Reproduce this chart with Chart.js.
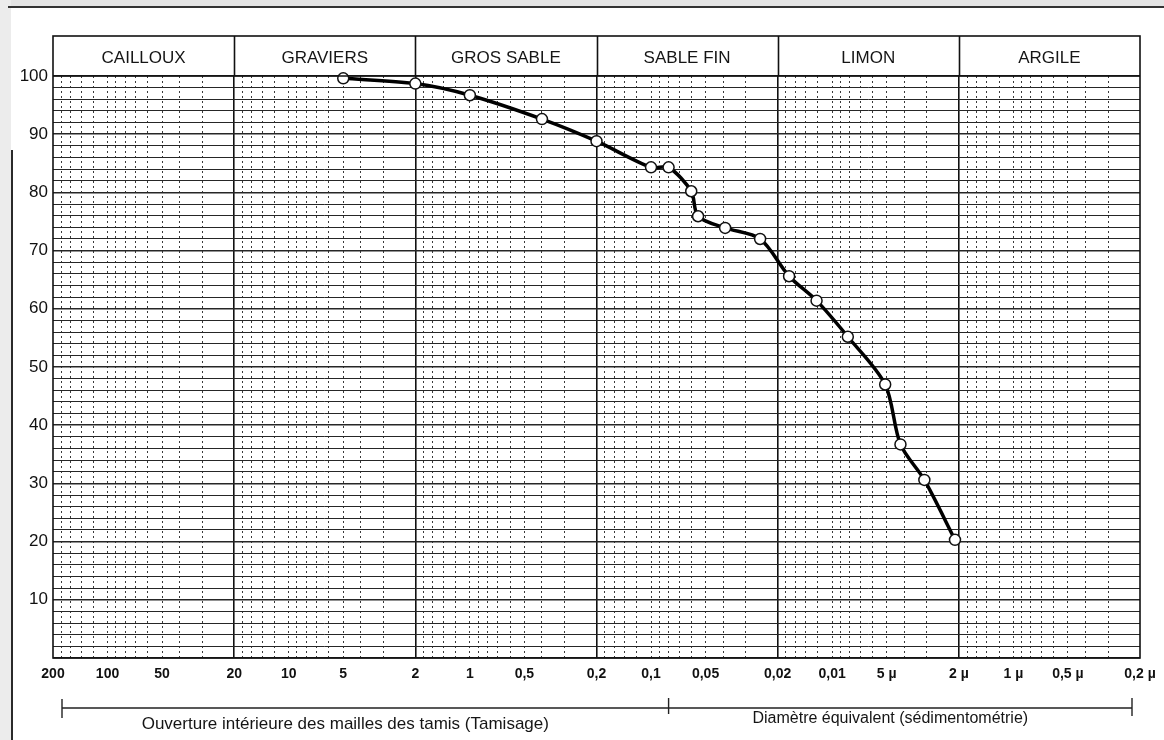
<!DOCTYPE html>
<html lang="fr">
<head>
<meta charset="utf-8">
<title>Courbe granulométrique</title>
<script src="https://cdn.jsdelivr.net/npm/chart.js@4.4.1/dist/chart.umd.min.js"></script>
<style>
  html, body { margin: 0; padding: 0; background: #fff; }
  #wrap { position: relative; width: 1164px; height: 740px; overflow: hidden; }
  #strip { position: absolute; left: 0; top: 0; width: 11px; height: 740px; background: #ececec; }
  #edge { position: absolute; left: 11px; top: 150px; width: 2px; height: 590px; background: #2a2a2a; }
  #topline { position: absolute; left: 8px; top: 6px; width: 1156px; height: 2px; background: #333; }
  #shade { position: absolute; left: 0; top: 0; width: 1164px; height: 6px; background: #e4e4e4; }
  canvas { position: absolute; left: 0; top: 0; }
</style>
</head>
<body>
<div id="wrap">
  <div id="shade"></div>
  <div id="strip"></div>
  <div id="edge"></div>
  <div id="topline"></div>
  <canvas id="granulo" width="1164" height="740"></canvas>
</div>
<script>
// grain diameter (mm) and cumulative passing (%)
const DIAM_MM = [5, 2, 1, 0.4, 0.2, 0.1, 0.08, 0.06, 0.055, 0.039, 0.025, 0.0173, 0.0122, 0.0082, 0.0051, 0.0042, 0.0031, 0.0021];
const PASSING = [99.6, 98.7, 96.7, 92.6, 88.8, 84.3, 84.3, 80.2, 75.9, 73.9, 72.0, 65.6, 61.4, 55.2, 47.0, 36.7, 30.6, 20.3];

// bottom axis labels
const X_TICK_VALUES = [200, 100, 50, 20, 10, 5, 2, 1, 0.5, 0.2, 0.1, 0.05, 0.02, 0.01, 0.005, 0.002, 0.001, 0.0005, 0.0002];
const X_TICK_LABELS = ['200', '100', '50', '20', '10', '5', '2', '1', '0,5', '0,2', '0,1', '0,05', '0,02', '0,01', '5 µ', '2 µ', '1 µ', '0,5 µ', '0,2 µ'];

// soil classes and their limits (mm)
const ZONES = ['CAILLOUX', 'GRAVIERS', 'GROS SABLE', 'SABLE FIN', 'LIMON', 'ARGILE'];
const ZONE_BOUNDS = [200, 20, 2, 0.2, 0.02, 0.002, 0.0002];

// log paper sub-divisions inside each decade
const DECADES = [100, 10, 1, 0.1, 0.01, 0.001, 0.0001];
const MINOR_MULT = [1, 1.2, 1.4, 1.6, 1.8, 3, 4, 5, 6, 7, 8, 9];

// method ranges under the axis
const SIEVE_RANGE = [200, 0.08];
const SEDIM_RANGE = [0.08, 0.0002];
const SIEVE_TEXT = 'Ouverture intérieure des mailles des tamis (Tamisage)';
const SEDIM_TEXT = 'Diamètre équivalent (sédimentométrie)';

const FONT = '"Liberation Sans", Arial, sans-serif';
const HEADER_TOP = 36;

const minorValues = [];
DECADES.forEach(d => MINOR_MULT.forEach(m => {
    const v = +(d * m).toPrecision(3);
    if (v < 200 && v > 0.0002) minorValues.push(v);
}));
const majorValues = ZONE_BOUNDS.slice(1, -1);

// header boxes + brackets under the axis
const framePlugin = {
    id: 'frame',
    afterDraw(chart) {
        const { ctx, chartArea: a } = chart;
        const x = chart.scales.x;
        ctx.save();
        ctx.strokeStyle = '#111';
        ctx.lineWidth = 1.6;
        ctx.strokeRect(a.left, HEADER_TOP, a.right - a.left, a.bottom - HEADER_TOP);

        ctx.beginPath();
        ctx.moveTo(a.left, a.top);
        ctx.lineTo(a.right, a.top);
        majorValues.forEach(v => {
            const px = Math.round(x.getPixelForValue(v)) + 0.5;
            ctx.moveTo(px, HEADER_TOP);
            ctx.lineTo(px, a.top);
        });
        ctx.stroke();

        ctx.fillStyle = '#151515';
        ctx.font = '17px ' + FONT;
        ctx.textAlign = 'center';
        ctx.textBaseline = 'middle';
        ZONES.forEach((name, i) => {
            const mid = Math.sqrt(ZONE_BOUNDS[i] * ZONE_BOUNDS[i + 1]);
            ctx.fillText(name, x.getPixelForValue(mid), (HEADER_TOP + a.top) / 2 + 2);
        });

        // brackets
        const yb = 708;
        const x0 = x.getPixelForValue(SIEVE_RANGE[0]) + 9;
        const x1 = x.getPixelForValue(SIEVE_RANGE[1]);
        const x2 = x.getPixelForValue(SEDIM_RANGE[1]) - 8;
        ctx.lineWidth = 1.4;
        ctx.strokeStyle = '#222';
        ctx.beginPath();
        ctx.moveTo(x0, yb); ctx.lineTo(x2, yb);
        ctx.moveTo(x0, yb - 9); ctx.lineTo(x0, yb + 10);
        ctx.moveTo(x1, yb - 10); ctx.lineTo(x1, yb + 6);
        ctx.moveTo(x2, yb - 10); ctx.lineTo(x2, yb + 8);
        ctx.stroke();

        ctx.font = '17px ' + FONT;
        ctx.fillText(SIEVE_TEXT, (x0 + x1) / 2 - 20, 724);
        ctx.font = '16px ' + FONT;
        ctx.fillText(SEDIM_TEXT, (x1 + x2) / 2 - 10, 719);
        ctx.restore();
    }
};

new Chart(document.getElementById('granulo'), {
    type: 'line',
    data: {
        datasets: [{
            label: 'Passant (%)',
            data: DIAM_MM.map((d, i) => ({ x: d, y: PASSING[i] })),
            borderColor: '#000',
            borderWidth: 3.5,
            tension: 0.3,
            pointRadius: 5.5,
            pointBorderWidth: 1.5,
            pointBackgroundColor: '#fff',
            pointBorderColor: '#111',
            clip: false
        }]
    },
    options: {
        responsive: false,
        animation: false,
        devicePixelRatio: 1,
        layout: { padding: { top: 76, right: 24, bottom: 0, left: 0 } },
        plugins: { legend: { display: false }, tooltip: { enabled: false } },
        scales: {
            x: {
                type: 'logarithmic',
                reverse: true,
                min: 0.0002,
                max: 200,
                position: 'bottom',
                afterBuildTicks: s => { s.ticks = X_TICK_VALUES.map(v => ({ value: v })); },
                afterFit: s => { s.height = 82; },
                grid: {
                    drawTicks: false,
                    color: c => (c.tick && majorValues.includes(c.tick.value)) ? '#111' : 'rgba(0,0,0,0)',
                    lineWidth: 1.6
                },
                border: { display: false },
                ticks: {
                    autoSkip: false,
                    maxRotation: 0,
                    padding: 8,
                    color: '#111',
                    font: { family: FONT, size: 14, weight: 'bold' },
                    callback: (v, i) => X_TICK_LABELS[i]
                }
            },
            xm: {
                type: 'logarithmic',
                reverse: true,
                min: 0.0002,
                max: 200,
                position: 'bottom',
                afterBuildTicks: s => { s.ticks = minorValues.map(v => ({ value: v })); },
                afterFit: s => { s.height = 0; },
                grid: { drawTicks: false, color: '#3a3a3a', lineWidth: 1 },
                border: { display: false, dash: [2, 3] },
                ticks: { display: false }
            },
            y: {
                min: 0,
                max: 100,
                afterFit: s => { s.width = 53; },
                grid: {
                    drawTicks: false,
                    color: '#262626',
                    lineWidth: c => (c.tick && c.tick.value % 10 === 0) ? 1.6 : 1
                },
                border: { display: false },
                ticks: {
                    stepSize: 2,
                    autoSkip: false,
                    padding: 5,
                    color: '#111',
                    font: { family: FONT, size: 17 },
                    callback: v => (v % 10 === 0 && v > 0) ? String(v) : ''
                }
            }
        }
    },
    plugins: [framePlugin]
});
</script>
</body>
</html>
